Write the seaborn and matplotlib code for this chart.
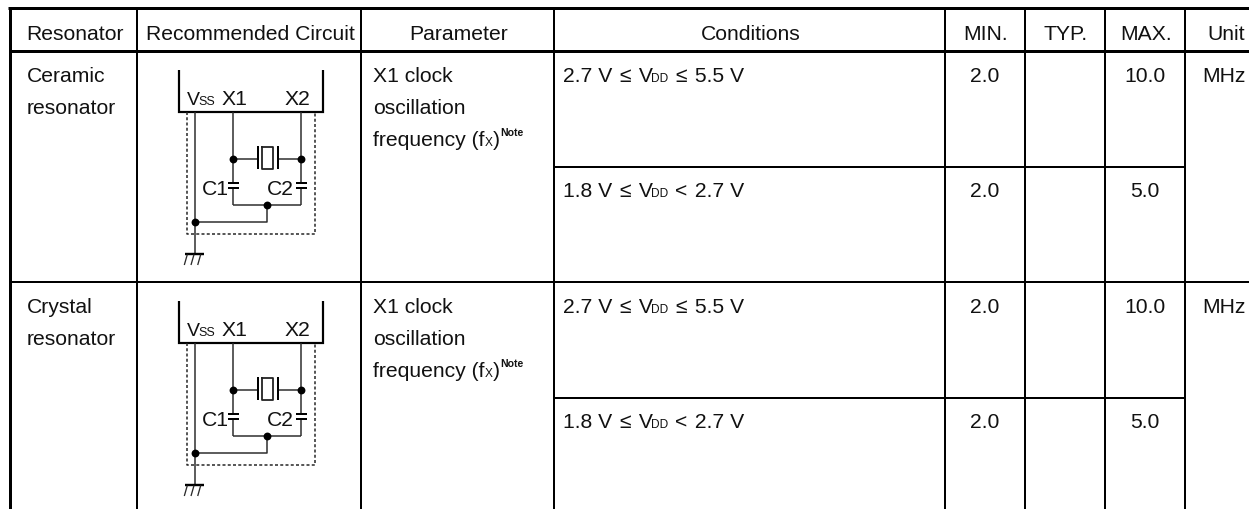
# resonator_table.py

import matplotlib
matplotlib.use('Agg')
import matplotlib.pyplot as plt
import pandas as pd
import seaborn as sns

# --- table contents ---
header_labels = ['Resonator', 'Recommended Circuit', 'Parameter', 'Conditions', 'MIN.', 'TYP.', 'MAX.', 'Unit']
resonator_names = [['Ceramic', 'resonator'], ['Crystal', 'resonator']]
parameter_lines = ['X1 clock', 'oscillation']
# run kinds: 0 normal, 1 small subscript, 2 relation sign with a little air
condition_rows = [
    [('2.7 V ', 0), ('≤', 2), (' V', 0), ('DD', 1), (' ', 0), ('≤', 2), (' 5.5 V', 0)],
    [('1.8 V ', 0), ('≤', 2), (' V', 0), ('DD', 1), (' ', 0), ('<', 2), (' 2.7 V', 0)],
]
min_values = ['2.0', '2.0']
max_values = ['10.0', '5.0']
unit_label = 'MHz'

# --- layout (pixels, image coordinates) ---
column_edges = [10, 137.5, 361.5, 554, 945, 1025, 1105, 1185, 1265]
row_tops = [51.5, 282.7]
ROW_STEP = 231
SUB_ROW = 116
TEXT_COLOR = '#111111'
FS = 15.2
px = 0.72

sns.set_theme(style='white')
plt.rcParams['font.family'] = ['Liberation Sans', 'DejaVu Sans']

fig = plt.figure(figsize=(12.49, 5.10), dpi=100)
ax = fig.add_axes([0, 0, 1, 1])
renderer = fig.canvas.get_renderer()


def text_width(s, size, weight='normal'):
    # sentinel dot so that trailing spaces are counted
    t1 = ax.text(0, 0, s + '.', fontsize=size, fontweight=weight)
    t2 = ax.text(0, 0, '.', fontsize=size, fontweight=weight)
    w = t1.get_window_extent(renderer).width - t2.get_window_extent(renderer).width
    t1.remove()
    t2.remove()
    return w


def put(x, y, s, size=FS, ha='left', weight='normal'):
    ax.text(x, y, s, fontsize=size, ha=ha, va='baseline', color=TEXT_COLOR, fontweight=weight)


def put_runs(x, y, runs, size=FS, small=8.6):
    for s, kind in runs:
        fs = small if kind == 1 else size
        gap = 1.5 if kind == 2 else 0
        put(x + gap, y, s, size=fs)
        x += text_width(s, fs) + 2 * gap
    return x


def line(xs, ys, width=1.0, color='black', **kw):
    ax.plot(xs, ys, color=color, lw=width * px, solid_capstyle='butt', **kw)


def draw_circuit(dy):
    wire = '#2a2a2a'
    # IC outline
    ax.plot([179.5, 179.5, 323, 323], [70.5 + dy, 113 + dy, 113 + dy, 70.5 + dy], color='black',
            lw=2.2 * px, solid_joinstyle='miter', solid_capstyle='butt')
    # dotted box
    ax.plot([187, 187, 315, 315], [113 + dy, 235 + dy, 235 + dy, 113 + dy], color='#222222',
            lw=1.5 * px, ls=(0, (2, 1.5)))
    # VSS to ground
    line([194.7, 194.7], [113 + dy, 255 + dy], 1.5, wire)
    line([185, 204], [255 + dy, 255 + dy], 2.4)
    for hx in [187.3, 194, 200.7]:
        line([hx, hx - 3], [255.5 + dy, 266 + dy], 1.3, wire)
    # X1, X2 legs with capacitors
    for x in [233.3, 301.3]:
        line([x, x], [113 + dy, 184 + dy], 1.5, wire)
        line([x, x], [189 + dy, 205.7 + dy], 1.5, wire)
        line([x - 5.6, x + 5.8], [184.3 + dy, 184.3 + dy], 2.0)
        line([x - 5.6, x + 5.8], [189 + dy, 189 + dy], 2.0)
    line([233.3, 301.3], [205.7 + dy, 205.7 + dy], 1.5, wire)
    line([267, 267, 194.7], [205.7 + dy, 222.7 + dy, 222.7 + dy], 1.5, wire)
    # crystal
    line([233.3, 258], [160.3 + dy, 160.3 + dy], 1.5, wire)
    line([278, 301.3], [160.3 + dy, 160.3 + dy], 1.5, wire)
    line([258, 258], [147.3 + dy, 169.8 + dy], 2.0)
    line([278, 278], [147.3 + dy, 169.8 + dy], 2.0)
    ax.plot([262.5, 273, 273, 262.5, 262.5], [147.5 + dy, 147.5 + dy, 169.5 + dy, 169.5 + dy, 147.5 + dy],
            color='#222222', lw=1.8 * px)
    # junction dots
    nodes = pd.DataFrame({'x': [233.3, 301.3, 267, 194.7],
                          'y': [160.3 + dy, 160.3 + dy, 205.7 + dy, 222.7 + dy]})
    sns.scatterplot(data=nodes, x='x', y='y', ax=ax, s=32, color='black', linewidth=0, zorder=5)
    # pin labels
    put_runs(187.3, 105 + dy, [('V', 0), ('SS', 1)], size=14, small=9)
    put(222, 105 + dy, 'X1')
    put(284.5, 105 + dy, 'X2')
    put(202.3, 195 + dy, 'C1')
    put(266.7, 195 + dy, 'C2')


# --- grid lines ---
line([8.5, 1249], [9, 9], 3)
line([10, 1249], [row_tops[0], row_tops[0]], 3)
line([10, 1249], [row_tops[1], row_tops[1]], 2)
for top in row_tops:
    line([554, 1185], [top + SUB_ROW, top + SUB_ROW], 2)
line([10, 10], [8, 510], 3)
for x in column_edges[1:8]:
    line([x, x], [9, 510], 2)

# --- header ---
for i, label in enumerate(header_labels):
    put((column_edges[i] + column_edges[i + 1]) / 2 + 1, 40.5, label, ha='center')

# --- body ---
for r, names in enumerate(resonator_names):
    dy = ROW_STEP * r
    put(27, 82.5 + dy, names[0])
    put(27, 114.5 + dy, names[1])
    draw_circuit(dy)

    put(373, 82.5 + dy, parameter_lines[0])
    put(373, 114.5 + dy, parameter_lines[1])
    end = put_runs(373, 146.5 + dy, [('frequency (f', 0), ('X', 1), (')', 0)])
    put(end + 1, 136 + dy, 'Note', size=7.6, weight='bold')

    for s, runs in enumerate(condition_rows):
        sub = SUB_ROW * s - (0 if s == 0 else 1)
        put_runs(563, 82.5 + dy + sub, runs)
        put(985, 82.5 + dy + sub, min_values[s], ha='center')
        put(1145, 82.5 + dy + sub, max_values[s], ha='center')
    put(1224, 82.5 + dy, unit_label, ha='center')

ax.set_xlim(0, 1249)
ax.set_ylim(510, 0)
ax.set_xlabel('')
ax.set_ylabel('')
ax.axis('off')
fig.savefig('out.png', dpi=100, facecolor='white')
plt.close(fig)
